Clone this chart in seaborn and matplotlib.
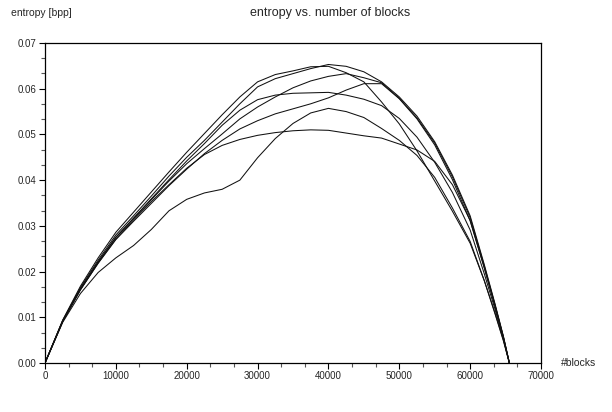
import numpy as np
import pandas as pd
import matplotlib
matplotlib.use("Agg")
import matplotlib.pyplot as plt
import seaborn as sns
from matplotlib.ticker import AutoMinorLocator, FormatStrFormatter

blocks = [0, 2500, 5000, 7500, 10000, 12500, 15000, 17500, 20000, 22500, 25000,
          27500, 30000, 32500, 35000, 37500, 40000, 42500, 45000, 47500, 50000,
          52500, 55000, 57500, 60000, 62000, 63500, 64700, 65536]

curve_1 = [0, 0.0094, 0.0168, 0.0230, 0.0286, 0.0330, 0.0374, 0.0418, 0.0461, 0.0502,
           0.0543, 0.0582, 0.0615, 0.0631, 0.0639, 0.0648, 0.0649, 0.0635, 0.0615,
           0.0571, 0.0523, 0.0464, 0.0398, 0.0332, 0.0262, 0.0180, 0.0110, 0.0050, 0]
curve_2 = [0, 0.0093, 0.0165, 0.0225, 0.0280, 0.0322, 0.0365, 0.0409, 0.0450, 0.0487,
           0.0527, 0.0567, 0.0604, 0.0622, 0.0633, 0.0644, 0.0653, 0.0649, 0.0637,
           0.0615, 0.0582, 0.0540, 0.0484, 0.0411, 0.0322, 0.0215, 0.0130, 0.0058, 0]
curve_3 = [0, 0.0092, 0.0162, 0.0221, 0.0275, 0.0316, 0.0357, 0.0398, 0.0436, 0.0469,
           0.0501, 0.0534, 0.0560, 0.0582, 0.0602, 0.0617, 0.0627, 0.0633, 0.0624,
           0.0613, 0.0579, 0.0536, 0.0481, 0.0407, 0.0318, 0.0212, 0.0128, 0.0057, 0]
curve_4 = [0, 0.0091, 0.0160, 0.0218, 0.0270, 0.0310, 0.0349, 0.0388, 0.0424, 0.0458,
           0.0487, 0.0512, 0.0530, 0.0545, 0.0556, 0.0567, 0.0580, 0.0597, 0.0611,
           0.0611, 0.0578, 0.0534, 0.0477, 0.0401, 0.0311, 0.0208, 0.0126, 0.0056, 0]
curve_5 = [0, 0.0092, 0.0162, 0.0221, 0.0275, 0.0317, 0.0359, 0.0401, 0.0442, 0.0480,
           0.0520, 0.0553, 0.0576, 0.0586, 0.0590, 0.0591, 0.0592, 0.0586, 0.0577,
           0.0563, 0.0535, 0.0494, 0.0439, 0.0373, 0.0291, 0.0195, 0.0118, 0.0052, 0]
curve_6 = [0, 0.0089, 0.0152, 0.0198, 0.0230, 0.0257, 0.0292, 0.0333, 0.0358, 0.0372,
           0.0380, 0.0400, 0.0449, 0.0491, 0.0524, 0.0547, 0.0557, 0.0550, 0.0537,
           0.0513, 0.0487, 0.0454, 0.0406, 0.0339, 0.0266, 0.0180, 0.0108, 0.0048, 0]
curve_7 = [0, 0.0091, 0.0160, 0.0219, 0.0271, 0.0313, 0.0353, 0.0390, 0.0426, 0.0456,
           0.0476, 0.0489, 0.0498, 0.0504, 0.0508, 0.0510, 0.0509, 0.0503, 0.0497,
           0.0492, 0.0479, 0.0466, 0.0441, 0.0390, 0.0312, 0.0208, 0.0124, 0.0055, 0]

curves = [curve_1, curve_2, curve_3, curve_4, curve_5, curve_6, curve_7]
x_ticks = [0, 10000, 20000, 30000, 40000, 50000, 60000, 70000]
y_ticks = [0.00, 0.01, 0.02, 0.03, 0.04, 0.05, 0.06, 0.07]

rows = []
for i, c in enumerate(curves):
    for b, e in zip(blocks, c):
        rows.append({"blocks": b, "entropy": e, "curve": f"c{i+1}"})
df = pd.DataFrame(rows)

sns.set_style("ticks")
plt.rcParams["font.family"] = ["Liberation Sans", "DejaVu Sans"]

fig = plt.figure(figsize=(6.12, 4.12), dpi=100)
ax = fig.add_axes([45/612, 1-363/412, 496/612, 320/412])

sns.lineplot(data=df, x="blocks", y="entropy", hue="curve",
             palette=["#111111"]*len(curves), legend=False, linewidth=0.75,
             ax=ax, sort=False)

ax.set_xlim(0, 70000)
ax.set_ylim(0, 0.07)
ax.set_xticks(x_ticks)
ax.set_yticks(y_ticks)
ax.yaxis.set_major_formatter(FormatStrFormatter("%.2f"))
ax.xaxis.set_minor_locator(AutoMinorLocator(3))
ax.yaxis.set_minor_locator(AutoMinorLocator(3))
ax.tick_params(which="major", direction="out", length=4.5, width=0.8,
               labelsize=7, pad=1.5, color="black")
ax.tick_params(which="minor", direction="out", length=3, width=0.8, color="#555555")
for s in ax.spines.values():
    s.set_linewidth(0.9)
    s.set_color("black")
ax.set_xlabel("")
ax.set_ylabel("")

fig.text(330/612, 1-13/412, "entropy vs. number of blocks",
         ha="center", va="center", fontsize=9)
fig.text(11/612, 1-13/412, "entropy [bpp]", ha="left", va="center", fontsize=7.5)
fig.text(561/612, 1-363/412, "#blocks", ha="left", va="center", fontsize=7.5)

fig.savefig("out.png", dpi=100)
